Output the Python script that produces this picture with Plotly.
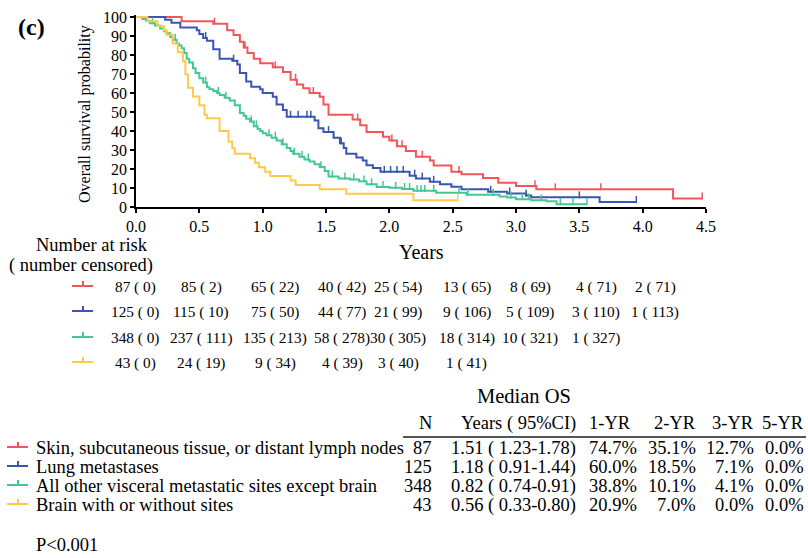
import numpy as np
import plotly.graph_objects as go

# ---------------- data ----------------
groups = ["Skin, subcutaneous tissue, or distant lymph nodes",
          "Lung metastases",
          "All other visceral metastatic sites except brain",
          "Brain with or without sites"]
colors = ["#F2555A", "#3A56B0", "#45C794", "#FFC94A"]

red_t = [0, 0.36, 0.61, 0.72, 0.77, 0.82, 0.85, 0.88, 0.93, 0.98, 1.08, 1.16, 1.22, 1.27, 1.32, 1.37,
         1.45, 1.48, 1.52, 1.71, 1.77, 1.82, 1.95, 2.0, 2.06, 2.13, 2.21, 2.32, 2.35, 2.49, 2.57, 2.74,
         2.86, 3.0, 3.16, 4.24, 4.47]
red_s = [100, 97.7, 96.5, 93, 90.5, 87, 84, 81, 78, 75.6, 73.5, 71, 67, 64.5, 62.5, 60,
         58, 54, 48.5, 46, 43, 39.5, 37, 35, 32, 29.5, 26.5, 24.5, 21.8, 18.5, 17.2, 15.2,
         12.7, 11, 9.3, 4.5, 4.5]
red_c = [0.62, 0.86, 1.1, 1.26, 1.4, 1.75, 2.02, 2.1, 2.26, 2.55, 3.15, 3.31, 3.67, 4.47]

blue_t = [0, 0.23, 0.28, 0.35, 0.48, 0.50, 0.53, 0.56, 0.61, 0.66, 0.76, 0.80, 0.82, 0.87, 0.91, 0.98,
          1.0, 1.08, 1.11, 1.16, 1.19, 1.41, 1.44, 1.48, 1.56, 1.61, 1.64, 1.66, 1.74, 1.79, 1.82,
          1.87, 1.93, 2.16, 2.21, 2.32, 2.40, 2.49, 2.57, 2.78, 2.93, 3.08, 3.12, 3.66, 3.95]
blue_s = [100, 98.5, 97, 94.5, 93, 91, 89, 87.5, 83, 78, 77, 75, 70.5, 66, 63.3, 62,
          60, 58, 54, 51, 47.5, 45.5, 41.5, 39.5, 36.5, 33.5, 31, 28, 26, 24.5, 22,
          20.5, 18.5, 16.5, 15, 13.3, 12, 10.7, 9.3, 8, 7.1, 6, 5.1, 2.6, 2.6]
blue_c = [0.22, 0.55, 0.77, 1.22, 1.28, 1.35, 1.38, 1.52, 1.62, 1.96, 2.01, 2.06, 2.11, 2.2, 2.26,
          2.35, 2.8, 2.95, 3.08, 3.5, 3.95]

green_t = [0, 0.05, 0.08, 0.11, 0.15, 0.19, 0.22, 0.24, 0.27, 0.29, 0.32, 0.34, 0.36, 0.38, 0.40,
           0.42, 0.45, 0.47, 0.50, 0.53, 0.56, 0.58, 0.61, 0.64, 0.66, 0.70, 0.74, 0.78, 0.82,
           0.85, 0.87, 0.90, 0.93, 0.96, 0.98, 1.0, 1.03, 1.07, 1.11, 1.15, 1.19, 1.22, 1.24,
           1.29, 1.33, 1.37, 1.41, 1.45, 1.49, 1.52, 1.60, 1.69, 1.76, 1.82, 1.90, 2.0, 2.10,
           2.19, 2.37, 2.61, 2.87, 2.93, 3.0, 3.12, 3.24, 3.32, 3.56]
green_s = [100, 99, 98, 96.7, 95.5, 94, 92.5, 91.5, 89.5, 88, 86, 85, 83.5, 81, 78,
           76, 73, 70.5, 67.7, 65.5, 63, 62, 61, 60, 59, 57.5, 56, 53.5, 49.5,
           48, 46.5, 45, 42.5, 41, 40, 38.8, 37.8, 36.5, 35, 33, 31, 29.5, 28,
           26.5, 25, 24, 22.5, 21, 19, 16, 15, 14.5, 13.5, 12, 10.5, 10.1, 9.5,
           8.5, 7.5, 6.5, 5.5, 5, 4.1, 3.5, 3, 1.5, 1.5]
green_c = [0.04, 0.13, 0.31, 0.55, 0.65, 0.71, 0.91, 0.95, 1.05, 1.1, 1.16, 1.25, 1.31, 1.36,
           1.46, 1.55, 1.65, 1.72, 1.8, 1.86, 1.95, 2.05, 2.12, 2.16, 2.22, 2.25, 2.28, 2.35,
           2.55, 2.62, 2.82, 2.96, 3.05, 3.1, 3.2, 3.35, 3.45, 3.56]

yellow_t = [0, 0.09, 0.17, 0.22, 0.24, 0.29, 0.33, 0.37, 0.39, 0.41, 0.45, 0.50, 0.54, 0.56, 0.66,
            0.73, 0.76, 0.78, 0.90, 0.94, 0.97, 1.02, 1.06, 1.22, 1.26, 1.45, 1.66, 2.19, 2.54]
yellow_s = [100, 97.7, 95.3, 93, 90.7, 86, 81.4, 76.7, 69.8, 62.8, 58.1, 53.5, 48.5, 46.7, 40,
            34.4, 30.9, 28, 25.6, 23.3, 20.9, 18.6, 16.3, 14.0, 11.6, 9.3, 7.0, 3.5, 3.5]
yellow_c = [2.54]

times = [red_t, blue_t, green_t, yellow_t]
survs = [red_s, blue_s, green_s, yellow_s]
cens = [red_c, blue_c, green_c, yellow_c]

risk_times = [0.0, 0.5, 1.0, 1.5, 2.0, 2.5, 3.0, 3.5, 4.0]
at_risk = [[87, 85, 65, 40, 25, 13, 8, 4, 2],
           [125, 115, 75, 44, 21, 9, 5, 3, 1],
           [348, 237, 135, 58, 30, 18, 10, 1],
           [43, 24, 9, 4, 3, 1]]
censored = [[0, 2, 22, 42, 54, 65, 69, 71, 71],
            [0, 10, 50, 77, 99, 106, 109, 110, 113],
            [0, 111, 213, 278, 305, 314, 321, 327],
            [0, 19, 34, 39, 40, 41]]

med_n = [87, 125, 348, 43]
med_years = ["1.51 ( 1.23-1.78)", "1.18 ( 0.91-1.44)", "0.82 ( 0.74-0.91)", "0.56 ( 0.33-0.80)"]
yr1 = ["74.7%", "60.0%", "38.8%", "20.9%"]
yr2 = ["35.1%", "18.5%", "10.1%", "7.0%"]
yr3 = ["12.7%", "7.1%", "4.1%", "0.0%"]
yr5 = ["0.0%", "0.0%", "0.0%", "0.0%"]
p_text = "P<0.001"

# ---------------- layout helpers ----------------
W, H = 808, 558
FONT = "Liberation Serif"


def fx(p):
    return p / W


def fy(p):
    return 1 - p / H


X0, X1 = 136, 706      # pixel of x=0 and x=4.5
Y0, Y100 = 207, 17     # pixel of y=0 and y=100
YMAX = 101
ytop = Y0 - (Y0 - Y100) * YMAX / 100

fig = go.Figure()

for i in range(4):
    t = np.array(times[i], dtype=float)
    s = np.array(survs[i], dtype=float)
    fig.add_trace(go.Scatter(x=t, y=s, mode="lines", line=dict(color=colors[i], width=2, shape="hv"),
                             showlegend=False, hoverinfo="skip"))
    c = np.array(cens[i], dtype=float)
    idx = np.searchsorted(t, c, side="right") - 1
    cy = s[np.clip(idx, 0, len(s) - 1)] + 1.3
    fig.add_trace(go.Scatter(x=c, y=cy, mode="markers",
                             marker=dict(symbol="line-ns", size=5, line=dict(color=colors[i], width=1.5)),
                             showlegend=False, hoverinfo="skip", cliponaxis=False))

fig.update_layout(
    template="none",
    width=W, height=H, autosize=False,
    margin=dict(l=0, r=0, t=0, b=0, pad=0, autoexpand=False),
    paper_bgcolor="white", plot_bgcolor="white",
    font=dict(family=FONT, color="black"),
    xaxis=dict(domain=[fx(X0), fx(X1)], range=[0, 4.5], tickvals=risk_times + [4.5],
               tickformat=".1f", showline=True, linecolor="black", linewidth=1.5,
               ticks="outside", ticklen=4, tickwidth=1.5, tickcolor="black", automargin=False,
               showgrid=False, zeroline=False, tickfont=dict(size=16, family=FONT, color="black")),
    yaxis=dict(domain=[fy(Y0), fy(ytop)], range=[0, YMAX], tickvals=list(range(0, 101, 10)),
               showline=True, linecolor="black", linewidth=1.5, automargin=False,
               ticks="outside", ticklen=4, tickwidth=1.5, tickcolor="black",
               showgrid=False, zeroline=False, tickfont=dict(size=16, family=FONT, color="black")),
)

ann = []


def text(x, y, s, size=16, xanchor="center", bold=False, angle=0, yanchor="middle"):
    ann.append(dict(x=fx(x), y=fy(y), xref="paper", yref="paper", text=("<b>%s</b>" % s) if bold else s,
                    showarrow=False, xanchor=xanchor, yanchor=yanchor, textangle=angle,
                    font=dict(family=FONT, size=size, color="black"), borderpad=0))


TS = 18.5   # table text size
RS = 15.3   # risk number size

text(31, 27, "(c)", size=24, bold=True)
text(85, 114, "Overall survival probability", size=16, angle=-90)
text(421, 252, "Years", size=20)
text(92, 245, "Number at risk", size=TS)
text(81, 265, "( number censored)", size=TS)

# risk table
risk_cols_px = [135, 201, 275, 342, 398, 467, 530, 596, 655]
risk_rows_px = [287, 312, 338, 363]
shapes = []
for i in range(4):
    ry = risk_rows_px[i]
    shapes.append(dict(type="line", xref="paper", yref="paper", x0=fx(72), x1=fx(93), y0=fy(ry - 1), y1=fy(ry - 1),
                       line=dict(color=colors[i], width=2)))
    shapes.append(dict(type="line", xref="paper", yref="paper", x0=fx(83), x1=fx(83), y0=fy(ry - 1), y1=fy(ry - 6),
                       line=dict(color=colors[i], width=2)))
    for j, (n, c) in enumerate(zip(at_risk[i], censored[i])):
        text(risk_cols_px[j], ry, "%d ( %d)" % (n, c), size=RS)

# median table
text(524, 396, "Median OS", size=20.5)
hdr_y = 423
text(433, hdr_y, "N", size=TS, xanchor="right")
text(577, hdr_y, "Years ( 95%CI)", size=TS, xanchor="right")
text(632, hdr_y, "1-YR", size=TS, xanchor="right")
text(697, hdr_y, "2-YR", size=TS, xanchor="right")
text(755, hdr_y, "3-YR", size=TS, xanchor="right")
text(805, hdr_y, "5-YR", size=TS, xanchor="right")
shapes.append(dict(type="line", xref="paper", yref="paper", x0=fx(403), x1=fx(806), y0=fy(437), y1=fy(437),
                   line=dict(color="#555555", width=2)))
med_rows_px = [448, 467, 486, 505]
for i in range(4):
    ry = med_rows_px[i]
    shapes.append(dict(type="line", xref="paper", yref="paper", x0=fx(7), x1=fx(28), y0=fy(ry - 1), y1=fy(ry - 1),
                       line=dict(color=colors[i], width=2)))
    shapes.append(dict(type="line", xref="paper", yref="paper", x0=fx(18), x1=fx(18), y0=fy(ry - 1), y1=fy(ry - 6),
                       line=dict(color=colors[i], width=2)))
    text(35, ry, groups[i], size=TS, xanchor="left")
    text(433, ry, str(med_n[i]), size=TS, xanchor="right")
    text(577, ry, med_years[i], size=TS, xanchor="right")
    text(638, ry, yr1[i], size=TS, xanchor="right")
    text(697, ry, yr2[i], size=TS, xanchor="right")
    text(755, ry, yr3[i], size=TS, xanchor="right")
    text(805, ry, yr5[i], size=TS, xanchor="right")

text(35, 545, p_text, size=TS, xanchor="left")

fig.update_layout(annotations=ann, shapes=shapes)
fig.write_html("out.html")
